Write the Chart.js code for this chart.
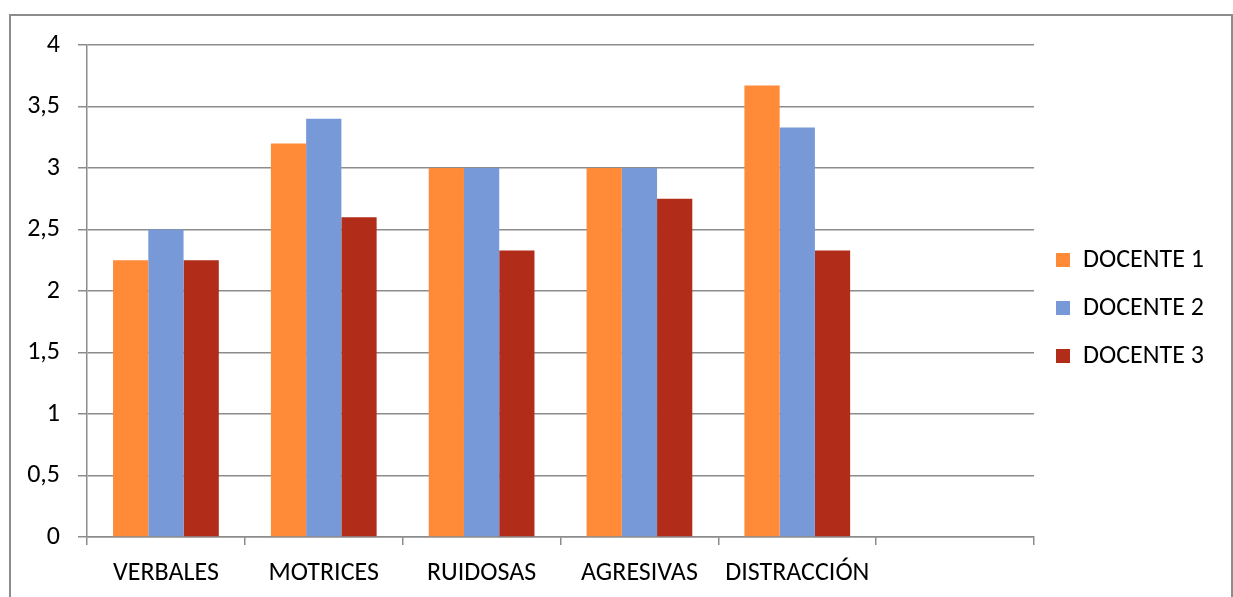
<!DOCTYPE html>
<html>
<head>
<meta charset="utf-8">
<script src="https://cdn.jsdelivr.net/npm/chart.js@4"></script>
<style>
    body { margin: 0; background: #fff; }
    #wrap { position: absolute; left: 0; top: 0; width: 1233px; height: 597px; }
    #frame { position: absolute; left: 9px; top: 14px; width: 1220px; height: 700px; border: 2px solid #8c8c8c; pointer-events: none; }
    canvas { position: absolute; left: 0; top: 0; }
</style>
</head>
<body>
<div id="wrap">
    <canvas id="chart" width="1233" height="597"></canvas>
    <div id="frame"></div>
</div>
<script>
// Chart data
const categories = ['VERBALES', 'MOTRICES', 'RUIDOSAS', 'AGRESIVAS', 'DISTRACCIÓN', ''];
const docente1 = [2.25, 3.2, 3, 3, 3.67, null];
const docente2 = [2.5, 3.4, 3, 3, 3.33, null];
const docente3 = [2.25, 2.6, 2.33, 2.75, 2.33, null];
const seriesNames = ['DOCENTE 1', 'DOCENTE 2', 'DOCENTE 3'];
const seriesColors = ['#FF8A38', '#7799D8', '#B22C1A'];

const fontFamily = 'Carlito, Lato, "Open Sans", sans-serif';
const fontSize = 26;
const gridColor = '#8c8c8c';

const ctx = document.getElementById('chart').getContext('2d');

new Chart(ctx, {
    type: 'bar',
    data: {
        labels: categories,
        datasets: [docente1, docente2, docente3].map((vals, i) => ({
            label: seriesNames[i],
            data: vals,
            backgroundColor: seriesColors[i],
            borderWidth: 0,
            categoryPercentage: 0.67,
            barPercentage: 1.0
        }))
    },
    options: {
        responsive: false,
        animation: false,
        layout: { padding: { left: 0, top: 45, right: 19, bottom: 0 } },
        plugins: {
            tooltip: { enabled: false },
            legend: {
                position: 'right',
                align: 'center',
                fullSize: false,
                // blank title only nudges the items down a little
                title: { display: true, text: ' ', font: { size: 20 }, padding: 5 },
                labels: {
                    color: '#000',
                    font: { family: fontFamily, size: fontSize },
                    boxWidth: 14,
                    boxHeight: 14,
                    padding: 22
                }
            }
        },
        scales: {
            x: {
                afterFit: (scale) => { scale.height = 60; },
                grid: {
                    display: true,
                    drawOnChartArea: false,
                    drawTicks: true,
                    tickLength: 8,
                    color: gridColor,
                    lineWidth: 1.5,
                    offset: true
                },
                border: { color: gridColor, width: 1.5 },
                ticks: {
                    color: '#000',
                    font: { family: fontFamily, size: fontSize },
                    padding: 13,
                    maxRotation: 0,
                    autoSkip: false
                }
            },
            y: {
                min: 0,
                max: 4,
                afterFit: (scale) => { scale.width = 87; },
                grid: {
                    color: gridColor,
                    lineWidth: 1.5,
                    tickLength: 9
                },
                border: { color: gridColor, width: 1.5 },
                ticks: {
                    stepSize: 0.5,
                    color: '#000',
                    font: { family: fontFamily, size: fontSize },
                    padding: 18,
                    callback: (v) => String(v).replace('.', ',')
                }
            }
        }
    }
});
</script>
</body>
</html>
